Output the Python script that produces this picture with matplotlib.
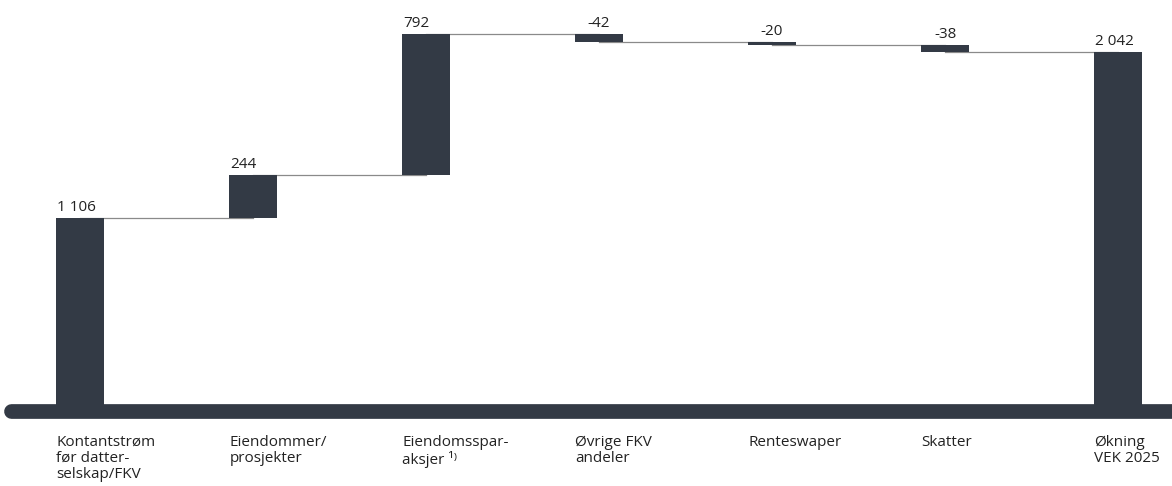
import matplotlib.pyplot as plt

plt.rcParams['font.family'] = ['Open Sans', 'DejaVu Sans']

categories = ['Kontantstrøm\nfør datter-\nselskap/FKV', 'Eiendommer/\nprosjekter',
              'Eiendomsspar-\naksjer ¹⁾', 'Øvrige FKV\nandeler', 'Renteswaper',
              'Skatter', 'Økning\nVEK 2025']
changes = [1106, 244, 792, -42, -20, -38]
total = 2042
value_labels = ['1 106', '244', '792', '-42', '-20', '-38', '2 042']

bar_color = '#333a45'
text_color = '#222222'
width = 0.272

fig = plt.figure(figsize=(11.72, 4.86), dpi=100)
ax = fig.add_axes([0, 0, 1, 1])
ax.set_xlim(-0.4624, 6.312)
ax.set_ylim(-406, 2334)
ax.axis('off')

level = 0
bottoms, heights = [], []
for c in changes:
    bottoms.append(level if c >= 0 else level + c)
    heights.append(abs(c))
    level += c
bottoms.append(0)
heights.append(total)

xs = list(range(len(categories)))
ax.bar(xs, heights, bottom=bottoms, width=width, color=bar_color, zorder=3)

# connectors between the running totals
level = 0
for i, c in enumerate(changes):
    level += c
    ax.plot([i, i + 1], [level, level], color='#8a8a8a', lw=0.9, zorder=2)

# thick base line with a rounded left end
ax.plot([-0.4, 6.4], [17, 17], color=bar_color, lw=10.6,
        solid_capstyle='round', zorder=4)

for i, lab in enumerate(value_labels):
    top = bottoms[i] + heights[i]
    if i < len(changes) and changes[i] < 0:
        ax.text(i, top + 15, lab, ha='center', va='bottom', fontsize=11, color=text_color)
    else:
        ax.text(i - width / 2 + 0.005, top + 15, lab, ha='left', va='bottom',
                fontsize=11, color=text_color)

for i, cat in enumerate(categories):
    ax.text(i - width / 2, -116, cat, ha='left', va='top', fontsize=11,
            color=text_color, linespacing=1.1)

fig.savefig('out.png', dpi=100)
